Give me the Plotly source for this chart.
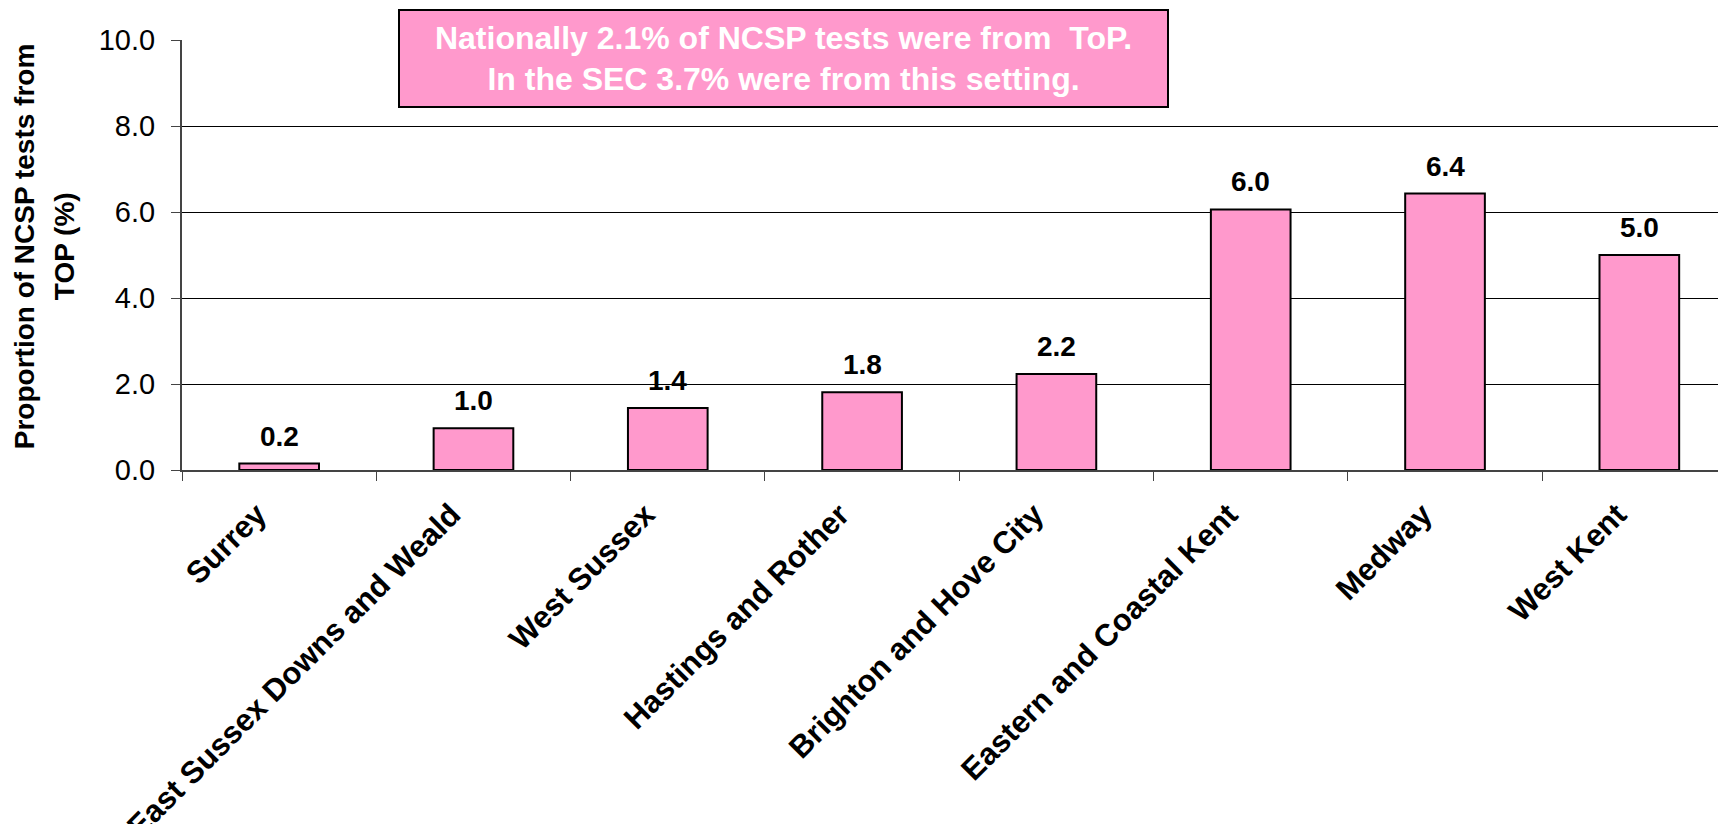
import plotly.graph_objects as go

regions = ['Surrey', 'East Sussex Downs and Weald', 'West Sussex', 'Hastings and Rother',
           'Brighton and Hove City', 'Eastern and Coastal Kent', 'Medway', 'West Kent']
top_pct = [0.15, 0.97, 1.44, 1.81, 2.23, 6.06, 6.43, 5.0]
top_labels = ['0.2', '1.0', '1.4', '1.8', '2.2', '6.0', '6.4', '5.0']

PINK = '#FF99CC'
FONT = 'Arial, Liberation Sans, Helvetica, sans-serif'

fig = go.Figure()

fig.add_trace(go.Bar(
    x=regions,
    y=top_pct,
    width=0.41,
    marker=dict(color=PINK, line=dict(color='black', width=2)),
    hoverinfo='x+y',
    showlegend=False,
))

# value labels above the bars
for r, v, lab in zip(regions, top_pct, top_labels):
    fig.add_annotation(x=r, y=v, text='<b>' + lab + '</b>', showarrow=False,
                       yanchor='bottom', yshift=10,
                       font=dict(family=FONT, size=28, color='black'))

# call-out box
fig.add_annotation(
    xref='paper', yref='paper', x=0.3897, y=0.958,
    xanchor='center', yanchor='middle',
    text='<b>Nationally 2.1% of NCSP tests were from  ToP.<br>In the SEC 3.7% were from this setting.</b>',
    showarrow=False, align='center',
    width=767, height=95,
    bgcolor=PINK, bordercolor='black', borderwidth=2, borderpad=0,
    font=dict(family=FONT, size=32, color='white'),
)

# y axis title, one annotation per line
for txt, xp in [('Proportion of NCSP tests from', -0.1018), ('TOP (%)', -0.0759)]:
    fig.add_annotation(
        xref='paper', yref='paper', x=xp, y=0.52,
        xanchor='center', yanchor='middle', textangle=-90,
        text='<b>' + txt + '</b>', showarrow=False,
        font=dict(family=FONT, size=28, color='black'),
    )

# the page body adds an 8px offset, so margins are shifted to compensate
fig.update_layout(
    width=1726, height=824,
    margin=dict(l=174, r=8, t=32, b=362, autoexpand=False),
    plot_bgcolor='white', paper_bgcolor='white',
    font=dict(family=FONT, size=28, color='black'),
)

fig.update_xaxes(
    range=[-0.5, 7.446],
    tickangle=-45,
    tickfont=dict(family=FONT, size=31, color='black'),
    tickson='boundaries', ticks='outside', ticklen=9, tickcolor='#444',
    ticklabelshift=-22, ticklabelstandoff=12,
    showline=True, linecolor='#444', linewidth=2,
    showgrid=False, automargin=False,
    tickvals=regions, ticktext=['<b>' + r + '</b>' for r in regions],
)

fig.update_yaxes(
    range=[0, 10], dtick=2, tickformat='.1f',
    ticks='outside', ticklen=9, tickcolor='#444',
    ticklabelstandoff=10,
    showline=True, linecolor='#444', linewidth=2,
    showgrid=True, gridcolor='black', gridwidth=1,
    zeroline=False, automargin=False,
    tickfont=dict(family=FONT, size=29, color='black'),
)

fig.write_html('out.html')
